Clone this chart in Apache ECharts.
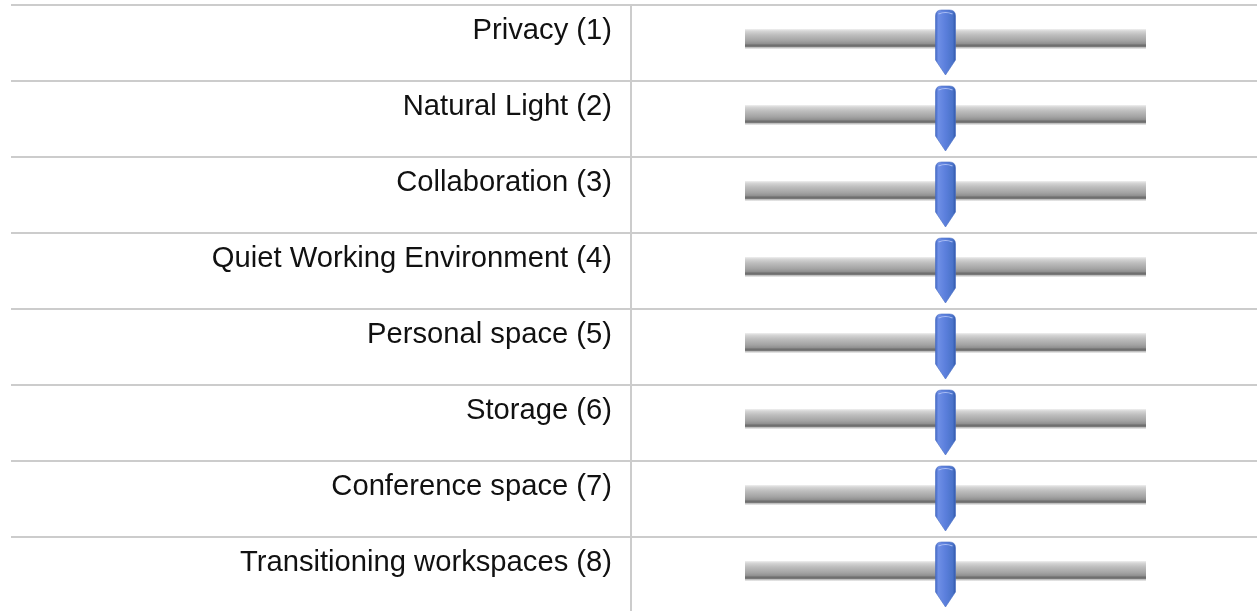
<!DOCTYPE html>
<html><head><meta charset="utf-8">
<script src="https://cdn.jsdelivr.net/npm/echarts@6/dist/echarts.min.js"></script>
<style>html,body{margin:0;padding:0;background:#fff;overflow:hidden}#c{width:1257px;height:700px}</style>
</head><body><div id="c"></div>
<script>
var categories = ['Privacy (1)','Natural Light (2)','Collaboration (3)','Quiet Working Environment (4)','Personal space (5)','Storage (6)','Conference space (7)','Transitioning workspaces (8)'];
var sliderValues = [50,50,50,50,50,50,50,50];
var scaleMin = 0, scaleMax = 100;

var chart = echarts.init(document.getElementById('c'), null, {renderer:'canvas'});
var trackData = categories.map(function(c,i){return [scaleMin, scaleMax, i];});
var handleData = sliderValues.map(function(v,i){return [v, i];});

chart.setOption({
  animation:false,
  grid:[
    {left:11, right:0, top:5, height:608},
    {left:745, right:111, top:5, height:608}
  ],
  xAxis:[
    {gridIndex:0, type:'value', min:0, max:1, show:false},
    {gridIndex:1, type:'value', min:scaleMin, max:scaleMax, show:false}
  ],
  yAxis:[
    {gridIndex:0, type:'category', data:categories, inverse:true,
     axisLine:{show:false}, axisTick:{show:false}, axisLabel:{show:false},
     splitLine:{show:true, lineStyle:{color:'#cccccc', width:2}}},
    {gridIndex:1, type:'category', data:categories, inverse:true,
     axisLine:{show:false}, axisTick:{show:false}, splitLine:{show:false},
     axisLabel:{margin:133, fontSize:29.2, lineHeight:24, color:'#111111', verticalAlign:'bottom', fontFamily:'Liberation Sans, Arial, sans-serif'}}
  ],
  graphic:[{type:'line', shape:{x1:631, y1:5, x2:631, y2:700}, style:{stroke:'#cccccc', lineWidth:2}, z:1}],
  series:[
    {type:'custom', xAxisIndex:1, yAxisIndex:1, data:trackData, z:2,
     renderItem:function(params, api){
       var s = api.coord([api.value(0), api.value(2)]);
       var e = api.coord([api.value(1), api.value(2)]);
       return {type:'rect', shape:{x:s[0], y:s[1]-14, width:e[0]-s[0], height:20},
         style:{fill:new echarts.graphic.LinearGradient(0,0,0,1,[
           {offset:0,color:'#f0f0f0'},{offset:0.1,color:'#d6d6d6'},{offset:0.3,color:'#bdbdbd'},
           {offset:0.6,color:'#a2a2a2'},{offset:0.75,color:'#8e8e8e'},{offset:0.8,color:'#6a6a6a'},
           {offset:0.88,color:'#7a7a7a'},{offset:0.93,color:'#c8c8c8'},{offset:1,color:'#eeeeee'}])}};
     }},
    {type:'custom', xAxisIndex:1, yAxisIndex:1, data:handleData, z:3,
     renderItem:function(params, api){
       var p = api.coord([api.value(0), api.value(1)]);
       var x = p[0]-10, w = 20, top = p[1]-33, body = p[1]+17, tip = p[1]+32;
       var r = 6;
       var path = 'M'+x+' '+(top+r)+' Q'+x+' '+top+' '+(x+r)+' '+top+' L'+(x+w-r)+' '+top+
         ' Q'+(x+w)+' '+top+' '+(x+w)+' '+(top+r)+' L'+(x+w)+' '+body+' L'+(x+w/2)+' '+tip+
         ' L'+x+' '+body+' Z';
       return {type:'group', children:[
         {type:'path', shape:{pathData:path},
          style:{fill:new echarts.graphic.LinearGradient(0,0,1,0,[
            {offset:0,color:'#3f63bf'},{offset:0.15,color:'#6e8fe6'},{offset:0.5,color:'#5b7fdc'},
            {offset:0.85,color:'#4a73c9'},{offset:1,color:'#2f55a8'}]), stroke:'#4a6fc4', lineWidth:0.6}},
         {type:'path', shape:{pathData:'M'+(x+3)+' '+(top+4)+' Q'+(x+w/2)+' '+(top+1)+' '+(x+w-3)+' '+(top+4)},
          style:{fill:null, stroke:'rgba(190,205,250,0.8)', lineWidth:1.2}}
       ]};
     }}
  ]
});
</script></body></html>
